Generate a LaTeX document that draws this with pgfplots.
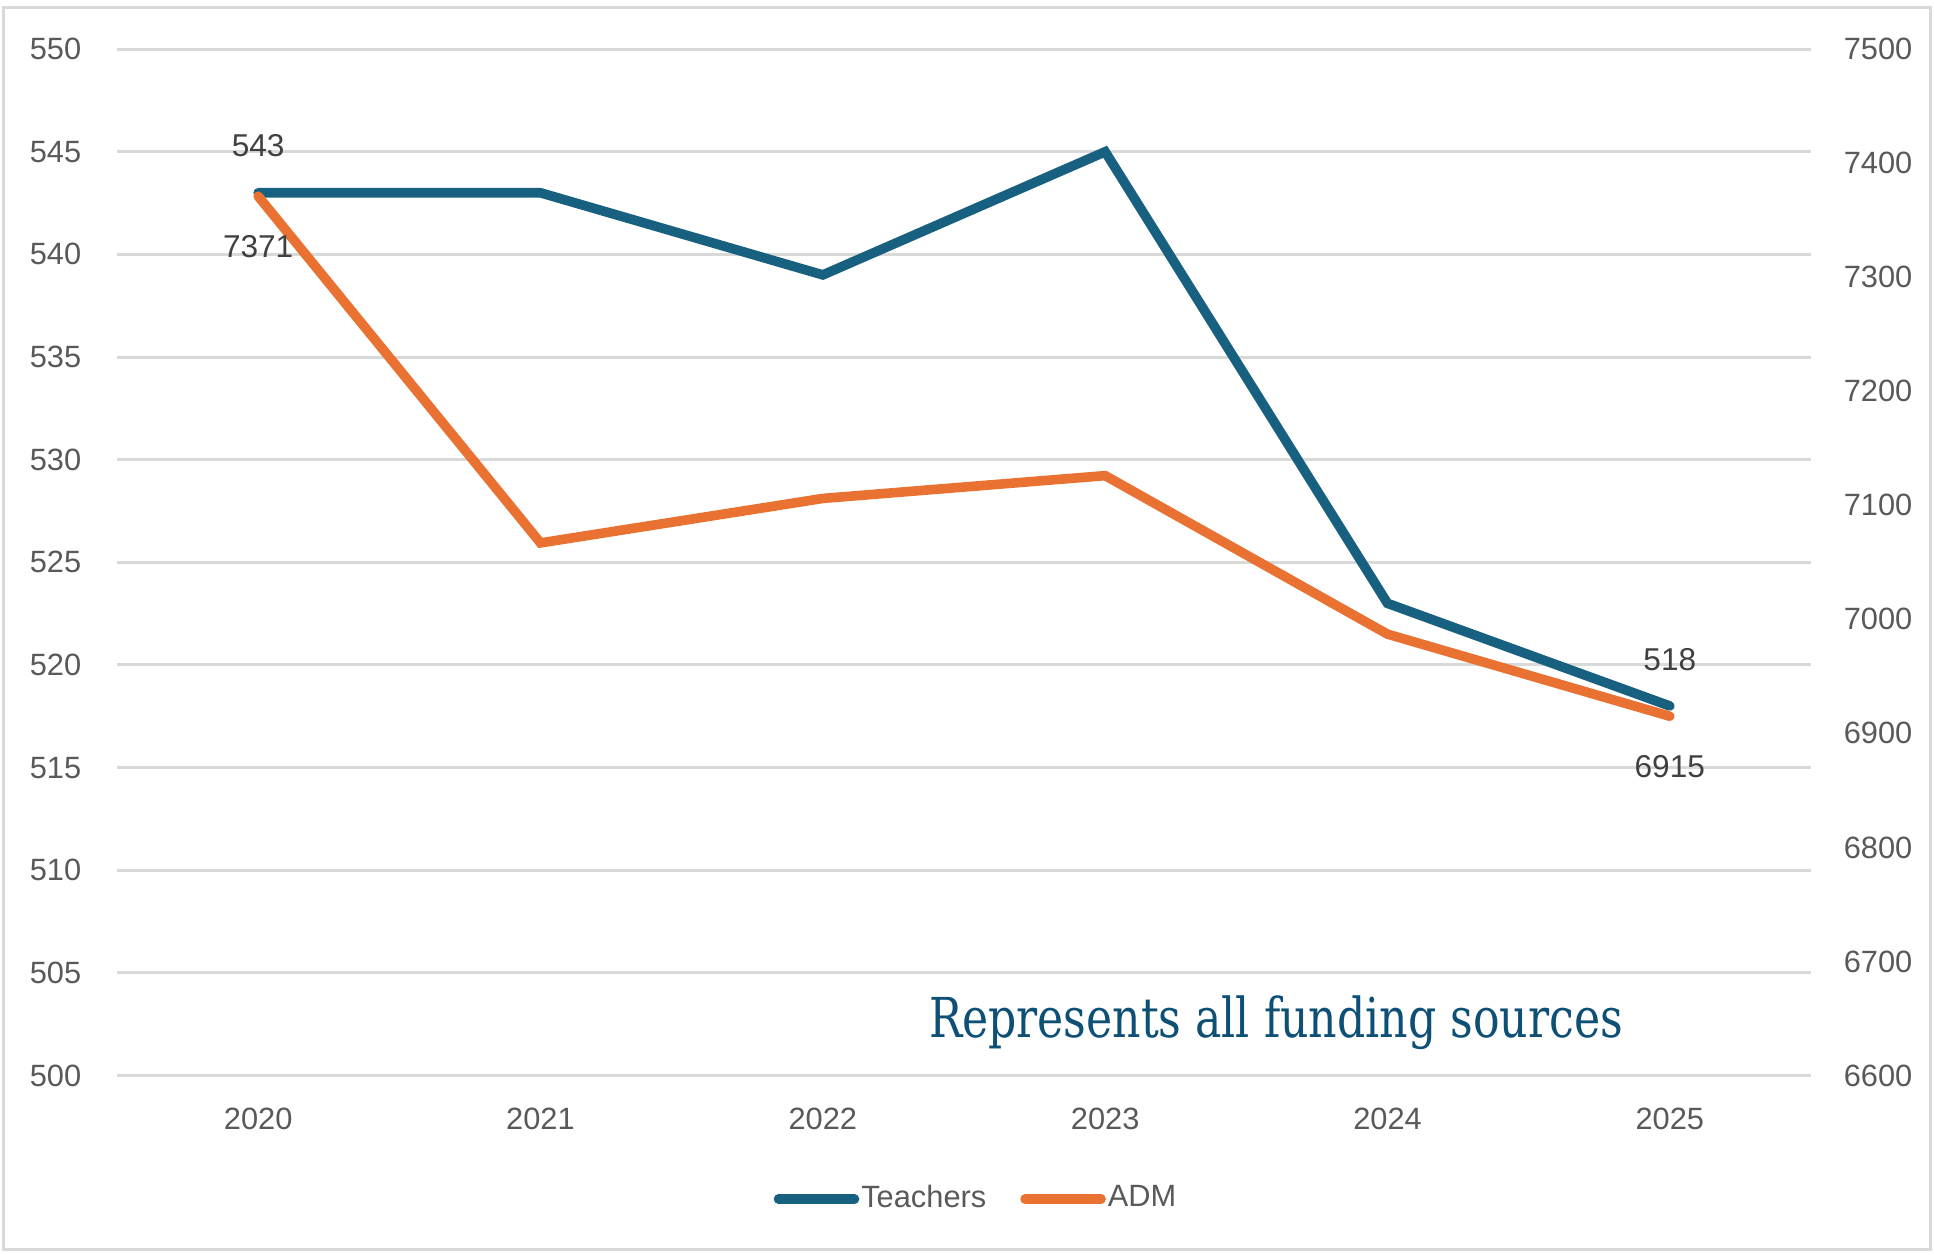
\documentclass[border=0pt]{standalone}
\usepackage{fontspec}
\setmainfont{Liberation Sans}
\newfontfamily\slabfont{DejaVu Serif Condensed}
\usepackage{pgfplots}
\pgfplotsset{compat=1.18}
\definecolor{teach}{HTML}{17607F}
\definecolor{adm}{HTML}{E97132}
\definecolor{gridc}{HTML}{D9D9D9}
\definecolor{tickc}{HTML}{595959}
\definecolor{lblc}{HTML}{404040}
\definecolor{notec}{HTML}{0E4F75}
\begin{document}
\begin{tikzpicture}
\useasboundingbox (-29.25pt,-44.625pt) rectangle (454.25pt,268.875pt);
\draw[gridc, line width=0.75pt] (-28.25pt,-43.6pt) rectangle (453.25pt,267.1pt);
\begin{axis}[
 at={(0pt,0pt)}, anchor=south west,
 scale only axis, width=423.5pt, height=256.6pt,
 xmin=2019.5, xmax=2025.5, ymin=500, ymax=550,
 xtick={2020,2021,2022,2023,2024,2025},
 xticklabels={2020,2021,2022,2023,2024,2025},
 ytick={500,505,...,550},
 ymajorgrids, grid style={gridc, line width=0.75pt},
 axis line style={draw=none}, major tick length=0pt,
 tick label style={font=\fontsize{7.7}{9}\selectfont, text=tickc, inner sep=0pt},
 yticklabel style={anchor=east, xshift=-8.75pt},
 xticklabel style={anchor=base, yshift=-13.4pt},
 /pgf/number format/assume math mode=true,
 /pgf/number format/1000 sep={},
 clip=false,
 legend columns=2,
 legend style={at={(0.5,0)}, anchor=center, yshift=-30.9pt, xshift=3pt,
   draw=none, fill=none, font=\fontsize{7.7}{9}\selectfont, text=tickc,
   /tikz/every even column/.append style={column sep=8pt},
   inner sep=0pt, nodes={inner sep=0.5pt}},
 legend image code/.code={\draw[#1, line width=2.4pt, line cap=round] (0pt,0pt) -- (19pt,0pt);},
]
\addplot[teach, line width=2.4pt, line cap=round]
 coordinates {(2020,543)(2021,543)(2022,539)(2023,545)(2024,523)(2025,518)}
 node[pos=0, yshift=11.9pt, font=\fontsize{7.9}{9}\selectfont, text=lblc] {543}
 node[pos=1, yshift=11.5pt, font=\fontsize{7.9}{9}\selectfont, text=lblc] {518};
\addlegendentry{Teachers}
\addlegendimage{adm, line width=2.4pt, line cap=round}
\addlegendentry{ADM}
\end{axis}
\begin{axis}[
 at={(0pt,0pt)}, anchor=south west,
 scale only axis, width=423.5pt, height=256.6pt,
 xmin=2019.5, xmax=2025.5, ymin=6600, ymax=7500,
 xtick=\empty,
 ytick={6600,6700,...,7500},
 axis line style={draw=none}, major tick length=0pt,
 yticklabel pos=right,
 tick label style={font=\fontsize{7.7}{9}\selectfont, text=tickc, inner sep=0pt},
 yticklabel style={anchor=west, xshift=8pt},
 /pgf/number format/assume math mode=true,
 /pgf/number format/1000 sep={},
 clip=false,
]
\addplot[adm, line width=2.4pt, line cap=round]
 coordinates {(2020,7371)(2021,7067)(2022,7106)(2023,7126)(2024,6987)(2025,6915)}
 node[pos=0, yshift=-12.5pt, font=\fontsize{7.9}{9}\selectfont, text=lblc] {7371}
 node[pos=1, yshift=-12.5pt, font=\fontsize{7.9}{9}\selectfont, text=lblc] {6915};
\end{axis}
\node[text=notec, inner sep=0pt] at (289.75pt,13.2pt) {\scalebox{1}[1.12]{\resizebox{173.5pt}{!}{\slabfont Represents all funding sources}}};
\end{tikzpicture}
\end{document}
